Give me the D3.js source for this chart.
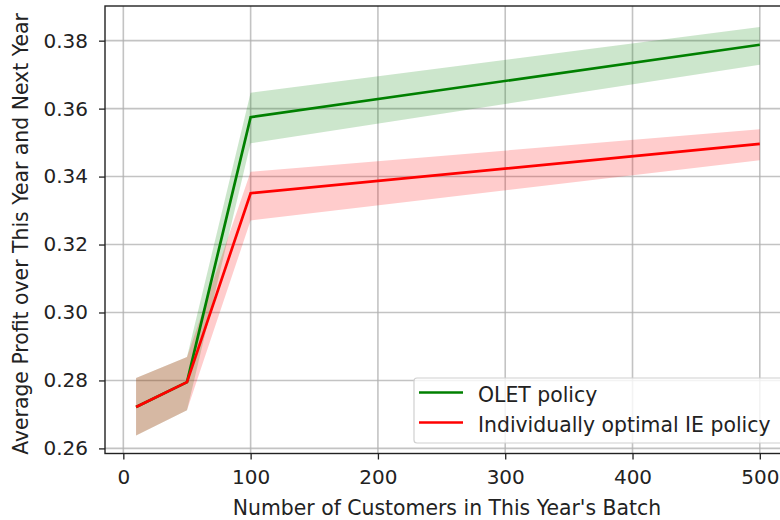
<!DOCTYPE html>
<html>
<head>
<meta charset="utf-8">
<script src="https://cdn.jsdelivr.net/npm/d3@7"></script>
<style>
  body { margin: 0; background: #fff; }
  svg { display: block; font-family: "DejaVu Sans", sans-serif; }
</style>
</head>
<body>
<svg id="chart" width="780" height="520"></svg>
<script>
// Batch sizes (customers this year)
const batchSizes = [10, 50, 100, 500];

// OLET policy: mean profit and confidence band
const oletMean  = [0.2722, 0.2795, 0.3575, 0.3788];
const oletLower = [0.2638, 0.2712, 0.3498, 0.3729];
const oletUpper = [0.2807, 0.2869, 0.3647, 0.3840];

// Individually optimal IE policy: mean profit and confidence band
const ieMean  = [0.2722, 0.2795, 0.3351, 0.3496];
const ieLower = [0.2638, 0.2712, 0.3271, 0.3448];
const ieUpper = [0.2807, 0.2869, 0.3414, 0.3539];

const xTicks = [0, 100, 200, 300, 400, 500];
const yTicks = [0.26, 0.28, 0.30, 0.32, 0.34, 0.36, 0.38];

const seriesNames = ["OLET policy", "Individually optimal IE policy"];
const seriesColors = ["#008000", "#ff0000"];

const FONT = 20;
const LABEL_FONT = 20.4;
const svg = d3.select("#chart");
const plot = { left: 105, top: 6, right: 791, bottom: 453.5 };

const x = d3.scaleLinear().domain([-14.4, 524.5]).range([plot.left, plot.right]);
const y = d3.scaleLinear().domain([0.2585, 0.3902]).range([plot.bottom, plot.top]);

// Grid
const grid = svg.append("g");
grid.selectAll("line.gx").data(xTicks).join("line")
  .attr("x1", d => x(d)).attr("x2", d => x(d))
  .attr("y1", plot.top).attr("y2", plot.bottom)
  .attr("stroke", "#b0b0b0").attr("stroke-width", 1.6).attr("opacity", 0.75);
grid.selectAll("line.gy").data(yTicks).join("line")
  .attr("x1", plot.left).attr("x2", plot.right)
  .attr("y1", d => y(d)).attr("y2", d => y(d))
  .attr("stroke", "#b0b0b0").attr("stroke-width", 1.6).attr("opacity", 0.75);

const series = [
  { mean: oletMean, lower: oletLower, upper: oletUpper },
  { mean: ieMean, lower: ieLower, upper: ieUpper }
];

const area = d3.area()
  .x((d, i) => x(batchSizes[i]))
  .y0(d => y(d[0]))
  .y1(d => y(d[1]));
const line = d3.line()
  .x((d, i) => x(batchSizes[i]))
  .y(d => y(d));

// Confidence bands
series.forEach((s, k) => {
  svg.append("path")
    .datum(s.lower.map((v, i) => [v, s.upper[i]]))
    .attr("d", area)
    .attr("fill", seriesColors[k])
    .attr("fill-opacity", 0.2);
});
// Mean lines
series.forEach((s, k) => {
  svg.append("path")
    .datum(s.mean)
    .attr("d", line)
    .attr("fill", "none")
    .attr("stroke", seriesColors[k])
    .attr("stroke-width", 2.7);
});

// Axes
const xAxis = d3.axisBottom(x).tickValues(xTicks).tickSize(6).tickPadding(10).tickFormat(d3.format("d"));
const yAxis = d3.axisLeft(y).tickValues(yTicks).tickSize(6).tickPadding(11).tickFormat(d3.format(".2f"));

const gx = svg.append("g").attr("transform", `translate(0,${plot.bottom})`).call(xAxis);
const gy = svg.append("g").attr("transform", `translate(${plot.left},0)`).call(yAxis);
[gx, gy].forEach(g => {
  g.select(".domain").remove();
  g.selectAll(".tick line").attr("stroke", "#222").attr("stroke-width", 1.3);
  g.selectAll(".tick text").attr("fill", "#222").attr("font-size", FONT)
    .attr("font-family", "DejaVu Sans, sans-serif");
});

// Spines
svg.append("rect")
  .attr("x", plot.left).attr("y", plot.top)
  .attr("width", plot.right - plot.left).attr("height", plot.bottom - plot.top)
  .attr("fill", "none").attr("stroke", "#222").attr("stroke-width", 1.4);

// Axis labels
svg.append("text")
  .attr("x", 447).attr("y", 515)
  .attr("text-anchor", "middle").attr("font-size", LABEL_FONT).attr("fill", "#222")
  .text("Number of Customers in This Year's Batch");
svg.append("text")
  .attr("transform", `translate(28,234) rotate(-90)`)
  .attr("text-anchor", "middle").attr("font-size", LABEL_FONT).attr("fill", "#222")
  .text("Average Profit over This Year and Next Year");

// Legend
const lg = svg.append("g");
lg.append("rect")
  .attr("x", 414).attr("y", 378).attr("width", 372).attr("height", 65)
  .attr("rx", 3).attr("fill", "#fff").attr("fill-opacity", 0.8)
  .attr("stroke", "#d0d0d0").attr("stroke-width", 1.2);
seriesNames.forEach((name, i) => {
  const ly = 392.5 + i * 30;
  lg.append("line")
    .attr("x1", 419).attr("x2", 463).attr("y1", ly).attr("y2", ly)
    .attr("stroke", seriesColors[i]).attr("stroke-width", 2.7);
  lg.append("text")
    .attr("x", 478).attr("y", ly + 9.5)
    .attr("font-size", LABEL_FONT).attr("fill", "#222")
    .text(name);
});
</script>
</body>
</html>
